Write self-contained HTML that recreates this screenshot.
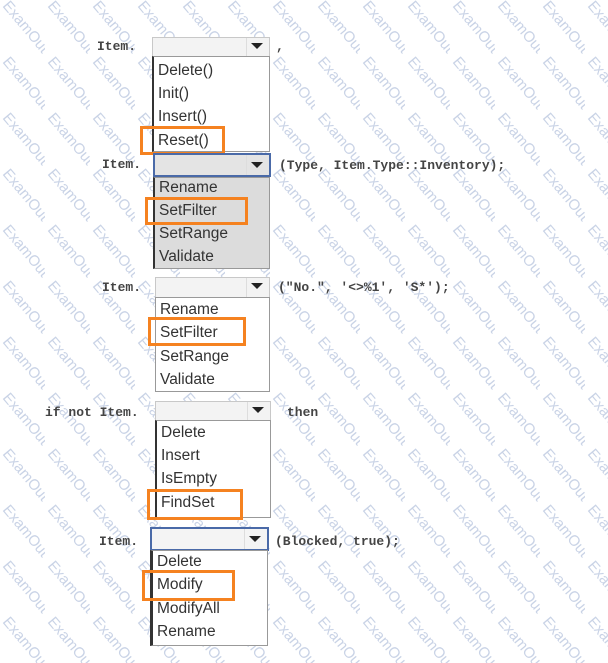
<!DOCTYPE html>
<html><head><meta charset="utf-8"><style>
body{margin:0;width:608px;height:663px;background:#fff;position:relative;overflow:hidden;font-family:"Liberation Sans",sans-serif}
.a{position:absolute}
.code{font-family:"Liberation Mono",monospace;font-size:13px;font-weight:bold;color:#444;line-height:14px}
.dd{position:absolute;height:18px;background:#f3f3f3;border:1px solid #c8c8c8;box-sizing:border-box}
.dd.blue{border:2px solid #4a6aa8;background:#e4e4e4}
.dd .arr{position:absolute;right:6px;top:5px;width:0;height:0;border-left:6px solid transparent;border-right:6px solid transparent;border-top:6px solid #222}
.dd .sep{position:absolute;right:22px;top:0;bottom:0;border-left:1px solid #ddd}
.list{position:absolute;background:#fff;border:1px solid #999;border-left:2px solid #333;box-sizing:border-box}
.list.gray{background:#dcdcdc}
.it{position:absolute;left:4px;font-size:15.5px;color:#333;line-height:18px}
.ob{position:absolute;border:3px solid #f58220;box-sizing:border-box}
</style></head><body>
<svg class="a" style="left:0;top:0" width="608" height="663">
<defs><pattern id="w" width="45" height="56" patternUnits="userSpaceOnUse">
<text x="0" y="0" transform="translate(2,6) rotate(50)" font-family="Liberation Sans" font-size="15" fill="#c9d3e6">ExamOut</text></pattern></defs>
<rect width="608" height="663" fill="url(#w)"/></svg>

<!-- block 1 -->
<div class="a code" style="left:97px;top:40px">Item.</div>
<div class="dd" style="left:152px;top:37px;width:118px;height:20px"><div class="sep"></div><div class="arr"></div></div>
<div class="a code" style="left:276px;top:40px">,</div>
<div class="list" style="left:152px;top:56px;width:118px;height:96px">
<div class="it" style="top:5px">Delete()</div><div class="it" style="top:28px">Init()</div>
<div class="it" style="top:51px">Insert()</div><div class="it" style="top:75px">Reset()</div></div>
<div class="ob" style="left:140px;top:126px;width:85px;height:29px"></div>

<!-- block 2 -->
<div class="a code" style="left:102px;top:158px">Item.</div>
<div class="dd blue" style="left:153px;top:153px;width:118px;height:24px"><div class="sep"></div><div class="arr" style="top:7px"></div></div>
<div class="a code" style="left:279px;top:159px">(Type, Item.Type::Inventory);</div>
<div class="list gray" style="left:153px;top:177px;width:117px;height:92px">
<div class="it" style="top:1px">Rename</div><div class="it" style="top:24px">SetFilter</div>
<div class="it" style="top:47px">SetRange</div><div class="it" style="top:70px">Validate</div></div>
<div class="ob" style="left:145px;top:197px;width:103px;height:28px"></div>

<!-- block 3 -->
<div class="a code" style="left:102px;top:281px">Item.</div>
<div class="dd" style="left:155px;top:277px;width:115px;height:21px"><div class="sep"></div><div class="arr"></div></div>
<div class="a code" style="left:278px;top:281px">("No.", '&lt;&gt;%1', 'S*');</div>
<div class="list" style="left:155px;top:297px;width:115px;height:95px;border-left:1px solid #999">
<div class="it" style="top:3px">Rename</div><div class="it" style="top:26px">SetFilter</div>
<div class="it" style="top:50px">SetRange</div><div class="it" style="top:73px">Validate</div></div>
<div class="ob" style="left:148px;top:317px;width:98px;height:29px"></div>

<!-- block 4 -->
<div class="a code" style="left:45px;top:406px">if not Item.</div>
<div class="dd" style="left:155px;top:401px;width:116px;height:20px"><div class="sep"></div><div class="arr"></div></div>
<div class="a code" style="left:287px;top:406px">then</div>
<div class="list" style="left:155px;top:420px;width:116px;height:98px">
<div class="it" style="top:3px">Delete</div><div class="it" style="top:26px">Insert</div>
<div class="it" style="top:49px">IsEmpty</div><div class="it" style="top:73px">FindSet</div></div>
<div class="ob" style="left:147px;top:489px;width:96px;height:31px"></div>

<!-- block 5 -->
<div class="a code" style="left:99px;top:535px">Item.</div>
<div class="dd blue" style="left:150px;top:527px;width:119px;height:24px;background:#f4f4f4"><div class="sep"></div><div class="arr" style="top:7px"></div></div>
<div class="a code" style="left:275px;top:535px">(Blocked, true);</div>
<div class="list" style="left:150px;top:550px;width:118px;height:96px;border-left:3px solid #333">
<div class="it" style="top:2px">Delete</div><div class="it" style="top:25px">Modify</div>
<div class="it" style="top:49px">ModifyAll</div><div class="it" style="top:72px">Rename</div></div>
<div class="ob" style="left:142px;top:570px;width:93px;height:31px"></div>
</body></html>
